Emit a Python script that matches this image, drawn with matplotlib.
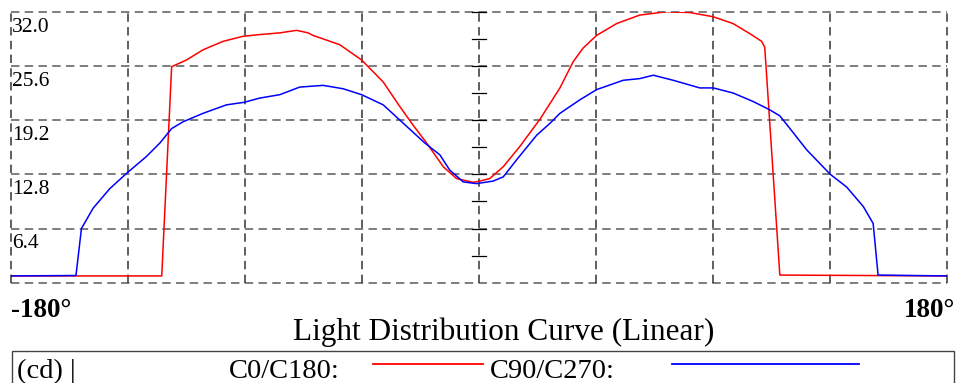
import matplotlib
matplotlib.use("Agg")
import matplotlib.pyplot as plt
from matplotlib.patches import Rectangle
from matplotlib.lines import Line2D

# ---- data ----
red_angle = [-180, -122, -118.2, -112.5, -106.1, -98.4, -90.7, -84.3, -76.6, -70.1, -65.7,
             -63.8, -53.5, -45.1, -36.8, -30.4, -25.3, -20.1, -13.7, -8.6, -2.2, 0.4, 4.2,
             9.4, 15.8, 23.5, 31.2, 36.3, 40.1, 45.3, 53.0, 61.9, 72.2, 81.2, 90.2, 97.8,
             104.3, 108.8, 110.0, 115.8, 180]
red_cd = [0.8, 0.8, 25.5, 26.3, 27.5, 28.5, 29.1, 29.3, 29.5, 29.8, 29.5,
          29.2, 28.1, 26.3, 23.7, 20.8, 18.6, 16.5, 13.7, 12.3, 11.85, 12.0, 12.3,
          13.7, 16.1, 19.3, 23.0, 26.1, 27.7, 29.2, 30.6, 31.6, 32.0, 31.9, 31.4, 30.6,
          29.4, 28.5, 27.8, 0.9, 0.8]

blue_angle = [-180, -155.0, -152.9, -148.4, -142.0, -135.6, -127.9, -122.7, -118.2, -113.8,
              -106.1, -97.1, -90.3, -84.3, -76.6, -68.9, -59.9, -52.2, -45.1, -36.8, -30.4,
              -20.8, -15.0, -11.2, -6.0, -0.9, 5.5, 9.4, 14.5, 22.2, 27.3, 31.2, 38.9, 45.3,
              55.5, 61.9, 67.1, 74.8, 85.0, 90.2, 97.8, 105.5, 112.0, 115.8, 119.7, 126.1,
              135.2, 141.5, 147.9, 151.7, 153.6, 180]
blue_cd = [0.8, 0.85, 6.4, 8.8, 11.1, 12.9, 14.9, 16.5, 18.2, 19.0,
           20.0, 21.0, 21.3, 21.8, 22.2, 23.1, 23.3, 22.9, 22.2, 21.0, 19.2,
           16.5, 15.1, 13.3, 11.9, 11.7, 12.0, 12.5, 14.5, 17.4, 18.8, 20.0, 21.6, 22.8,
           23.9, 24.1, 24.5, 23.9, 23.0, 23.0, 22.4, 21.4, 20.4, 19.7, 18.2, 15.7,
           12.8, 11.3, 9.0, 7.0, 0.9, 0.8]

y_ticks = [0, 6.4, 12.8, 19.2, 25.6, 32.0]
y_labels = ["", "6.4", "12.8", "19.2", "25.6", "32.0"]
x_grid = [-180, -135, -90, -45, 0, 45, 90, 135, 180]
center_ticks = [3.2, 6.4, 9.6, 12.8, 16.0, 19.2, 22.4, 25.6, 28.8, 32.0]
title = "Light Distribution Curve (Linear)"
legend_unit = "(cd) |"
series_names = ["C0/C180:", "C90/C270:"]
series_colors = ["#ff0000", "#0000ff"]

# ---- figure ----
W, H = 959, 383
fig = plt.figure(figsize=(W / 100, H / 100), dpi=100)
fig.patch.set_facecolor("white")

def fx(x):
    return x / W

def fy(y):
    return 1 - y / H

L, R, T, B = 11.0, 946.7, 11.7, 282.7
ax = fig.add_axes([fx(L), fy(B), fx(R) - fx(L), fy(T) - fy(B)])
ax.set_xlim(-180, 180)
ax.set_ylim(0, 32)
ax.axis("off")

grid_kw = dict(lw=1.1, dashes=(5.5, 3.5), zorder=1, clip_on=False)
for yv in y_ticks:
    ax.axhline(yv, color="#5a5a5a", **grid_kw)
for xv in x_grid:
    ax.axvline(xv, color="#333333", **grid_kw)

for yv in center_ticks:
    ax.plot([-2.7, 2.7], [yv, yv], color="black", lw=0.9, zorder=2, clip_on=False)

ax.plot(red_angle, red_cd, color=series_colors[0], lw=1.1, zorder=3)
ax.plot(blue_angle, blue_cd, color=series_colors[1], lw=1.1, zorder=3)

serif = ["Liberation Serif", "DejaVu Serif"]

# y labels inside plot
for yv, lab in zip(y_ticks, y_labels):
    if not lab:
        continue
    ypix = B - (yv / 32.0) * (B - T)
    fig.text(fx(12), fy(ypix + 20), lab, family=serif, fontsize=15.5,
             ha="left", va="baseline", color="black")

fig.text(fx(11.5), fy(316.7), "-180°", family=serif, fontsize=19.5, fontweight="bold",
         ha="left", va="baseline")
fig.text(fx(955), fy(316.7), "180°", family=serif, fontsize=19.5, fontweight="bold",
         ha="right", va="baseline")

fig.text(fx(504), fy(340), title, family=serif, fontsize=22.5, ha="center", va="baseline")

# legend box
fig.patches.append(Rectangle((fx(11.7), fy(400)), fx(954) - fx(11.7), fy(351) - fy(400),
                             transform=fig.transFigure, fill=False, edgecolor="#444444",
                             lw=1.0))
leg_fs = 20.5
leg_base = 377.5
fig.text(fx(17), fy(leg_base), legend_unit, family=serif, fontsize=leg_fs, ha="left", va="baseline")
fig.text(fx(229), fy(leg_base), series_names[0], family=serif, fontsize=leg_fs, ha="left", va="baseline")
fig.text(fx(490), fy(leg_base), series_names[1], family=serif, fontsize=leg_fs, ha="left", va="baseline")
fig.lines.append(Line2D([fx(373), fx(483)], [fy(364.3), fy(364.3)], transform=fig.transFigure,
                        color=series_colors[0], lw=1.3))
fig.lines.append(Line2D([fx(672), fx(859)], [fy(364.3), fy(364.3)], transform=fig.transFigure,
                        color=series_colors[1], lw=1.3))

fig.savefig("out.png", dpi=100, facecolor="white")
